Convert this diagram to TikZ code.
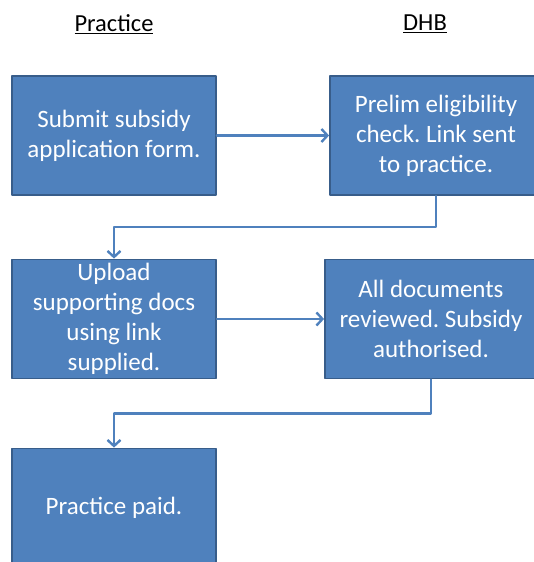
\documentclass[tikz,border=0pt]{standalone}
\usepackage{fontspec}
\setmainfont{Carlito}
\usetikzlibrary{arrows.meta}
\definecolor{boxfill}{HTML}{4F81BD}
\definecolor{boxline}{HTML}{385D8A}
\frenchspacing
\tikzset{
  stepbox/.style={draw=boxline, line width=1.8pt, fill=boxfill, text=white,
    minimum width=204pt, minimum height=119pt, inner sep=0pt, align=center,
    font=\fontsize{25}{30}\selectfont},
  widebox/.style={stepbox, minimum width=212pt},
  conn/.style={draw=boxfill, line width=2.4pt, -{Straight Barb[length=6pt,width=13pt,line width=2.4pt]}},
  lane/.style={font=\fontsize{24.5}{28}\selectfont}
}
\begin{document}
\begin{tikzpicture}[x=1pt, y=-1pt, line cap=round, line join=round]
\useasboundingbox (0,0) rectangle (534,562);
\clip (0,0) rectangle (534,562);
% lane titles
\node[lane] (tP) at (114,24) {\underline{Practice}};
\node[lane] (tD) at (425,24) {\underline{DHB}};
% steps
\node[stepbox] (L1) at (114,135.5) {Submit subsidy\\application form.};
\node[widebox] (R1) at (436,135.5) {Prelim eligibility\\check. Link sent\\to practice.};
\node[stepbox] (L2) at (114,319) {Upload\\supporting docs\\using link\\supplied.};
\node[widebox] (R2) at (431,319) {All documents\\reviewed. Subsidy\\authorised.};
\node[stepbox] (L3) at (114,508) {Practice paid.};
% connectors
\draw[conn] (L1.east) -- (R1.west);
\draw[conn] (R1.south) -- ++(0,31) -| (L2.north);
\draw[conn] (L2.east) -- (R2.west);
\draw[conn] (R2.south) -- ++(0,34) -| (L3.north);
\end{tikzpicture}
\end{document}
